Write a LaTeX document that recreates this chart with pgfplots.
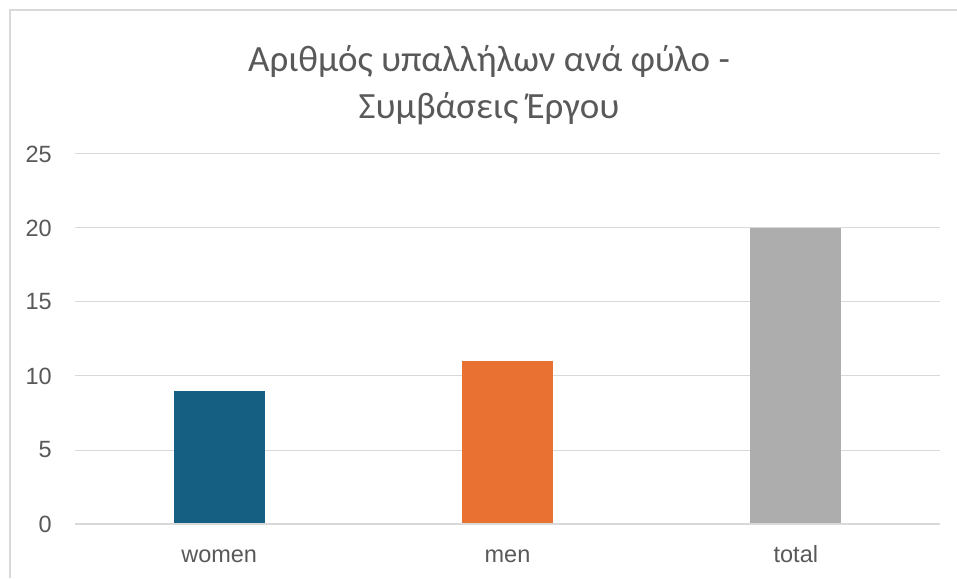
\documentclass[border=0pt]{standalone}
\usepackage{pgfplots}
\pgfplotsset{compat=1.18}
\usepackage{fontspec}
\setmainfont{Liberation Sans}
\newfontfamily\titlefont{Carlito}
\definecolor{womenc}{HTML}{156082}
\definecolor{menc}{HTML}{E97132}
\definecolor{totalc}{HTML}{ADADAD}
\definecolor{gridc}{HTML}{D9D9D9}
\definecolor{textc}{HTML}{595959}
\begin{document}
\begin{tikzpicture}[x=1pt,y=1pt]
\useasboundingbox (0,0) rectangle (957,578);
\fill[white] (0,0) rectangle (957,578);
\draw[gridc, line width=1.5pt] (10,0) -- (10,568) -- (957,568);
\begin{axis}[
  at={(75pt,54pt)}, anchor=south west,
  scale only axis, width=865pt, height=370pt,
  xmin=-0.5, xmax=2.5, ymin=0, ymax=25,
  ytick={0,5,...,25},
  xtick={0,1,2},
  xticklabels={women,men,total},
  axis line style={draw=none},
  axis x line*=bottom,
  major tick length=0pt,
  ymajorgrids, grid style={gridc, line width=1pt},
  /pgf/number format/assume math mode=true,
  tick label style={font=\fontsize{23.5}{28}\selectfont, text=textc, inner sep=0pt},
  yticklabel style={anchor=east, xshift=-23pt},
  xticklabel style={anchor=base, yshift=-38pt},
  ybar, bar width=91pt, bar shift=0pt,
  clip=false,
]
\addplot[fill=womenc, draw=none] coordinates {(0,9)};
\addplot[fill=menc, draw=none] coordinates {(1,11)};
\addplot[fill=totalc, draw=none] coordinates {(2,20)};
\draw[gridc, line width=1.5pt] (axis cs:-0.5,0) -- (axis cs:2.5,0);
\end{axis}
\node[anchor=base, text=textc, inner sep=0pt, font=\titlefont\fontsize{37}{44}\selectfont] at (489,506.3) {Αριθμός υπαλλήλων ανά φύλο -};
\node[anchor=base, text=textc, inner sep=0pt, font=\titlefont\fontsize{37}{44}\selectfont] at (489,459) {Συμβάσεις Έργου};
\end{tikzpicture}
\end{document}
